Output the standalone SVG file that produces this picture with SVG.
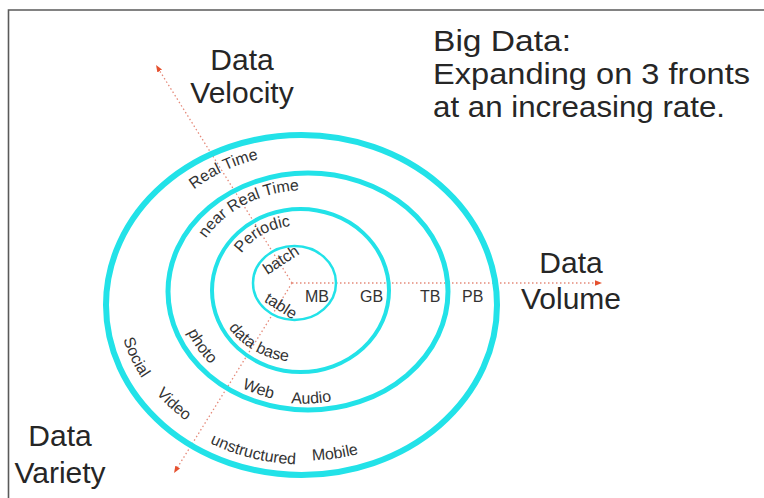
<svg xmlns="http://www.w3.org/2000/svg" width="764" height="498" viewBox="0 0 764 498">
  <style>
    .frame { fill: none; stroke: #5a5a5a; stroke-width: 1.6; }
    .ring { fill: none; stroke: #22e2e8; }
    .axis { fill: none; stroke: #e58a7a; stroke-width: 1.3; stroke-dasharray: 1.5 2.5; }
    .big { font-family: "Liberation Sans", Arial, Helvetica, sans-serif; font-size: 30px; fill: #262626; }
    .title { font-size: 29px; }
    .lbl { font-family: "Liberation Sans", Arial, Helvetica, sans-serif; font-size: 16px; fill: #333333; }
  </style>
  <defs>
    <marker id="arrow" viewBox="0 0 10 10" refX="5" refY="5" markerWidth="7" markerHeight="7" markerUnits="userSpaceOnUse" orient="auto">
      <path d="M0,1 L10,5 L0,9 z" fill="#e5502e"/>
    </marker>
    <!-- baselines for the curved ring labels -->
    <path id="p-realtime" d="M168.6,213.3 A168.3,144.7 0 0 1 292.9,153.7"/>
    <path id="p-social" d="M118.1,315.2 A188,161.7 0 0 0 157.1,397.8"/>
    <path id="p-video" d="M141.4,373.7 A185.8,159.7 0 0 0 207.4,433.9"/>
    <path id="p-unstructured" d="M190.6,432.4 A193.7,166.6 0 0 0 317.8,464.2"/>
    <path id="p-mobile" d="M289.8,460.1 A189.1,162.6 0 0 0 380.1,447.2"/>
    <path id="p-nearrt" d="M199.1,249.7 A115,100.7 0 0 1 312.4,190.6"/>
    <path id="p-photo" d="M182,316.9 A125.5,109.8 0 0 0 222.8,374.7"/>
    <path id="p-web" d="M229.6,380.9 A126.8,111 0 0 0 286.6,400.9"/>
    <path id="p-audio" d="M275.7,400.9 A128.8,112.7 0 0 0 346.6,397.4"/>
    <path id="p-periodic" d="M236.1,262.7 A66.85,61 0 0 1 301.2,225.85"/>
    <path id="p-database" d="M223.6,319.65 A82.2,75 0 0 0 297.5,361.75"/>
  </defs>

  <rect width="764" height="498" fill="#ffffff"/>
  <path class="frame" d="M8.5,498 V10 H764"/>

  <!-- the three growth axes -->
  <g id="connectors">
    <path class="axis" d="M292,283 L598.5,283" marker-end="url(#arrow)"/>
    <path class="axis" d="M292,283 L157.9,68" marker-end="url(#arrow)"/>
    <path class="axis" d="M292,283 L175.9,470" marker-end="url(#arrow)"/>
  </g>

  <g id="rings">
    <ellipse id="ring-1" class="ring" cx="294.5" cy="283" rx="41.5" ry="37" stroke-width="2.5"/>
    <ellipse id="ring-2" class="ring" cx="300.5" cy="290.5" rx="88.5" ry="81.5" stroke-width="4"/>
    <ellipse id="ring-3" class="ring" cx="308" cy="291.5" rx="140" ry="118.5" stroke-width="5"/>
    <ellipse id="ring-4" class="ring" cx="301.5" cy="305" rx="195.5" ry="170" stroke-width="6"/>
  </g>

  <g id="title">
    <text class="big title" x="433" y="51" textLength="138" lengthAdjust="spacingAndGlyphs">Big Data:</text>
    <text class="big title" x="433" y="84" textLength="317" lengthAdjust="spacingAndGlyphs">Expanding on 3 fronts</text>
    <text class="big title" x="433" y="117" textLength="292" lengthAdjust="spacingAndGlyphs">at an increasing rate.</text>
  </g>

  <g id="velocity-label" class="big" text-anchor="middle">
    <text x="242" y="70">Data</text>
    <text x="242" y="103">Velocity</text>
  </g>
  <g id="volume-label" class="big" text-anchor="middle">
    <text x="571" y="273">Data</text>
    <text x="571" y="309">Volume</text>
  </g>
  <g id="variety-label" class="big" text-anchor="middle">
    <text x="60" y="446">Data</text>
    <text x="60" y="483">Variety</text>
  </g>

  <!-- volume steps -->
  <g id="volume-steps" class="lbl">
    <text x="305" y="302">MB</text>
    <text x="360" y="302">GB</text>
    <text x="420" y="302">TB</text>
    <text x="462" y="302">PB</text>
  </g>

  <!-- velocity steps -->
  <g id="velocity-steps" class="lbl" text-anchor="middle">
    <text transform="translate(283.8,264.4) rotate(-33)">batch</text>
    <text><textPath href="#p-periodic" startOffset="50%">Periodic</textPath></text>
    <text><textPath href="#p-nearrt" startOffset="50%">near Real Time</textPath></text>
    <text><textPath href="#p-realtime" startOffset="50%">Real Time</textPath></text>
  </g>

  <!-- variety steps -->
  <g id="variety-steps" class="lbl" text-anchor="middle">
    <text transform="translate(278.2,310.4) rotate(32)">table</text>
    <text><textPath href="#p-database" startOffset="50%">data base</textPath></text>
    <text><textPath href="#p-photo" startOffset="50%">photo</textPath></text>
    <text><textPath href="#p-web" startOffset="50%">Web</textPath></text>
    <text><textPath href="#p-audio" startOffset="50%">Audio</textPath></text>
    <text><textPath href="#p-social" startOffset="50%">Social</textPath></text>
    <text><textPath href="#p-video" startOffset="50%">Video</textPath></text>
    <text><textPath href="#p-unstructured" startOffset="50%">unstructured</textPath></text>
    <text><textPath href="#p-mobile" startOffset="50%">Mobile</textPath></text>
  </g>
</svg>
